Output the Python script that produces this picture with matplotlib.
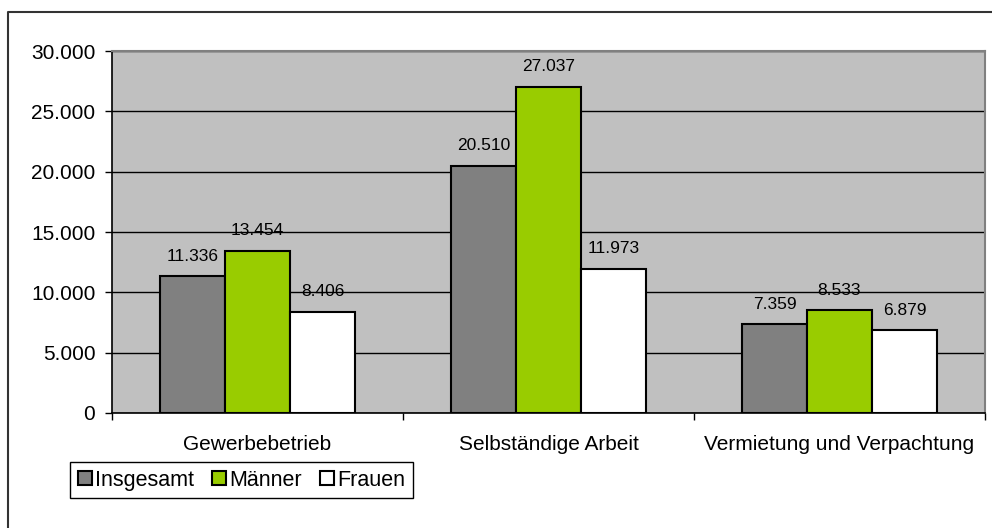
import matplotlib.pyplot as plt
import matplotlib.ticker as mticker
import numpy as np

plt.rcParams['font.family'] = ['Liberation Sans', 'DejaVu Sans']

# Data
categories = ['Gewerbebetrieb', 'Selbständige Arbeit', 'Vermietung und Verpachtung']
series_names = ['Insgesamt', 'Männer', 'Frauen']
insgesamt = [11336, 20510, 7359]
maenner = [13454, 27037, 8533]
frauen = [8406, 11973, 6879]
y_ticks = [0, 5000, 10000, 15000, 20000, 25000, 30000]

colors = ['#808080', '#99CC00', '#FFFFFF']


def de_format(v, pos=None):
    # German thousands separator
    return f'{int(v):,}'.replace(',', '.')


fig = plt.figure(figsize=(9.92, 5.28), dpi=100)
ax = fig.add_axes([112 / 992, 1 - 413 / 528, 873 / 992, 362 / 528])
ax.set_facecolor('#C0C0C0')

x = np.arange(len(categories))
width = 65 / 291
for i, (name, vals) in enumerate(zip(series_names, [insgesamt, maenner, frauen])):
    bars = ax.bar(x + (i - 1) * width, vals, width, color=colors[i],
                  edgecolor='black', linewidth=1.5, label=name, zorder=3)
    for b, v in zip(bars, vals):
        ax.annotate(de_format(v), (b.get_x() + b.get_width() / 2, v),
                    xytext=(0, 11), textcoords='offset points',
                    ha='center', va='baseline', fontsize=12.5)

# Axes, grid
ax.set_xlim(-0.5, 2.5)
ax.set_ylim(0, 30000)
ax.set_yticks(y_ticks)
ax.yaxis.set_major_formatter(mticker.FuncFormatter(de_format))
ax.grid(axis='y', color='black', linewidth=1, zorder=1)
ax.tick_params(axis='y', direction='out', length=5, width=1, pad=7, labelsize=15)

ax.set_xticks(x)
ax.set_xticklabels(categories)
ax.set_xticks([-0.5, 0.5, 1.5, 2.5], minor=True)
ax.tick_params(axis='x', which='major', length=0, pad=16, labelsize=15)
ax.tick_params(axis='x', which='minor', direction='out', length=5, width=1)

for side in ['left', 'bottom']:
    ax.spines[side].set_color('black')
    ax.spines[side].set_linewidth(1.2)
for side in ['top', 'right']:
    ax.spines[side].set_color('#808080')
    ax.spines[side].set_linewidth(1.5)

# Legend
leg = ax.legend(loc='upper left', bbox_to_anchor=(70 / 992, 1 - 462 / 528),
                bbox_transform=fig.transFigure, ncol=3, fontsize=15.5,
                handlelength=0.65, handleheight=0.65, handletextpad=0.15,
                columnspacing=0.85, borderpad=0.35, borderaxespad=0,
                fancybox=False, framealpha=1, edgecolor='black')
leg.get_frame().set_linewidth(1)

# Outer chart frame (left and top only)
fig.add_artist(plt.Line2D([8 / 992, 8 / 992, 1.01], [0, 1 - 12 / 528, 1 - 12 / 528],
                          transform=fig.transFigure, color='#333333', linewidth=1.5))

fig.savefig('out.png', dpi=100)
